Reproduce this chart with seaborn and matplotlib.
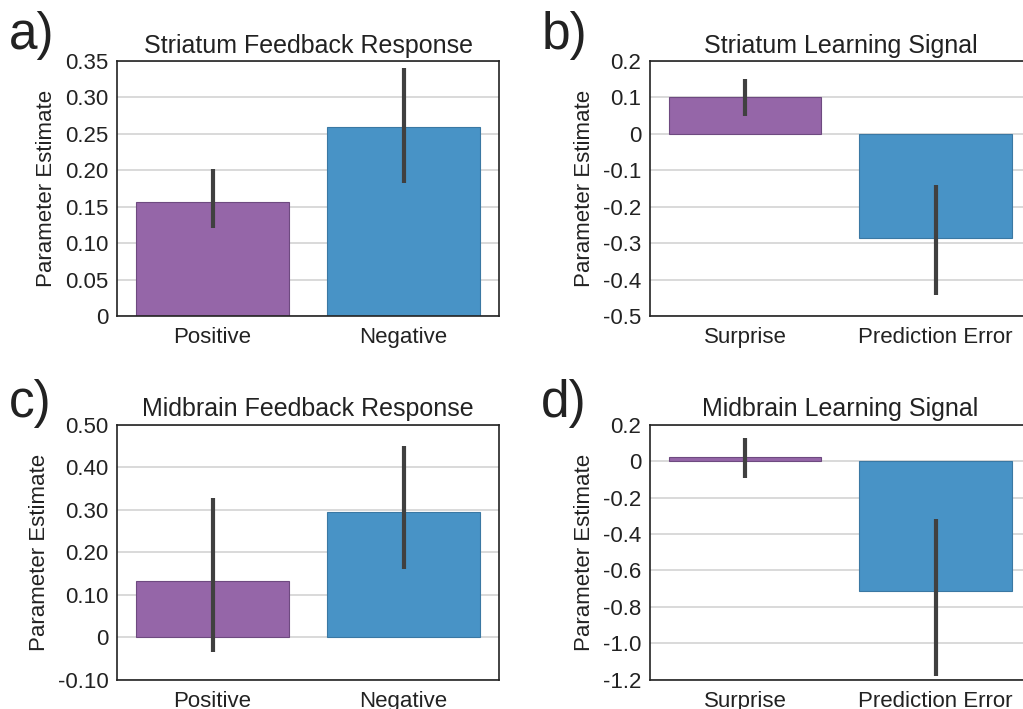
import matplotlib
matplotlib.use("Agg")
import matplotlib.pyplot as plt
import seaborn as sns
import pandas as pd

# values
feedback_cats = ["Positive", "Negative"]
learning_cats = ["Surprise", "Prediction Error"]

str_fb_mean = [0.157, 0.259]
str_fb_lo = [0.121, 0.182]
str_fb_hi = [0.202, 0.341]

str_ls_mean = [0.100, -0.287]
str_ls_lo = [0.048, -0.442]
str_ls_hi = [0.151, -0.140]

mid_fb_mean = [0.133, 0.294]
mid_fb_lo = [-0.035, 0.161]
mid_fb_hi = [0.327, 0.451]

mid_ls_mean = [0.022, -0.714]
mid_ls_lo = [-0.093, -1.178]
mid_ls_hi = [0.128, -0.317]

sns.set_style("white")
plt.rcParams['font.family'] = ['Liberation Sans', 'DejaVu Sans']

colors = ["#9566a8", "#4893c6"]
edges = ["#6e4a80", "#3a78a3"]

fig = plt.figure(figsize=(10.23, 7.09), dpi=100)

panels = [
    # cats, mean, lo, hi, title, ylim, ticks, ticklabels, rect, letter, letter pos
    (feedback_cats, str_fb_mean, str_fb_lo, str_fb_hi, "Striatum Feedback Response",
     (0, 0.35), [0, 0.05, 0.10, 0.15, 0.20, 0.25, 0.30, 0.35],
     ["0", "0.05", "0.10", "0.15", "0.20", "0.25", "0.30", "0.35"],
     [0.1144, 0.5543, 0.3734, 0.3597], "a)", (0.009, 0.984)),
    (learning_cats, str_ls_mean, str_ls_lo, str_ls_hi, "Striatum Learning Signal",
     (-0.5, 0.2), [-0.5, -0.4, -0.3, -0.2, -0.1, 0, 0.1, 0.2],
     ["-0.5", "-0.4", "-0.3", "-0.2", "-0.1", "0", "0.1", "0.2"],
     [0.6351, 0.5543, 0.3727, 0.3597], "b)", (0.529, 0.984)),
    (feedback_cats, mid_fb_mean, mid_fb_lo, mid_fb_hi, "Midbrain Feedback Response",
     (-0.1, 0.5), [-0.1, 0, 0.1, 0.2, 0.3, 0.4, 0.5],
     ["-0.10", "0", "0.10", "0.20", "0.30", "0.40", "0.50"],
     [0.1144, 0.0413, 0.3734, 0.3597], "c)", (0.009, 0.466)),
    (learning_cats, mid_ls_mean, mid_ls_lo, mid_ls_hi, "Midbrain Learning Signal",
     (-1.2, 0.2), [-1.2, -1.0, -0.8, -0.6, -0.4, -0.2, 0, 0.2],
     ["-1.2", "-1.0", "-0.8", "-0.6", "-0.4", "-0.2", "0", "0.2"],
     [0.6351, 0.0413, 0.3727, 0.3597], "d)", (0.529, 0.466)),
]

for cats, mean, lo, hi, title, ylim, ticks, tlabels, rect, letter, lpos in panels:
    ax = fig.add_axes(rect)
    df = pd.DataFrame({"cond": cats, "est": mean})
    sns.barplot(data=df, x="cond", y="est", hue="cond", palette=colors,
                saturation=1, errorbar=None, legend=False, width=0.8, ax=ax,
                linewidth=0.8, zorder=2)
    for patch, ec in zip(ax.patches, edges):
        patch.set_edgecolor(ec)
    ax.vlines(range(len(cats)), lo, hi, color="#404040", linewidth=3, zorder=3)
    ax.set_ylim(*ylim)
    ax.set_xlim(-0.5, 1.5)
    ax.set_yticks(ticks)
    ax.set_yticklabels(tlabels)
    ax.yaxis.grid(True, color="#d0d0d0", linewidth=1.1, zorder=0)
    ax.set_axisbelow(True)
    ax.tick_params(axis="both", length=0, labelsize=16, colors="#222222")
    ax.tick_params(axis="y", pad=6)
    ax.tick_params(axis="x", pad=8)
    for s in ax.spines.values():
        s.set_color("#222222")
        s.set_linewidth(1.2)
    ax.set_xlabel("")
    ax.set_ylabel("Parameter Estimate", fontsize=16, color="#222222", labelpad=6)
    ax.set_title(title, fontsize=18, color="#222222", pad=6)
    fig.text(lpos[0], lpos[1], letter, fontsize=37, color="#222222",
             ha="left", va="top")

fig.savefig("out.png", dpi=100)
